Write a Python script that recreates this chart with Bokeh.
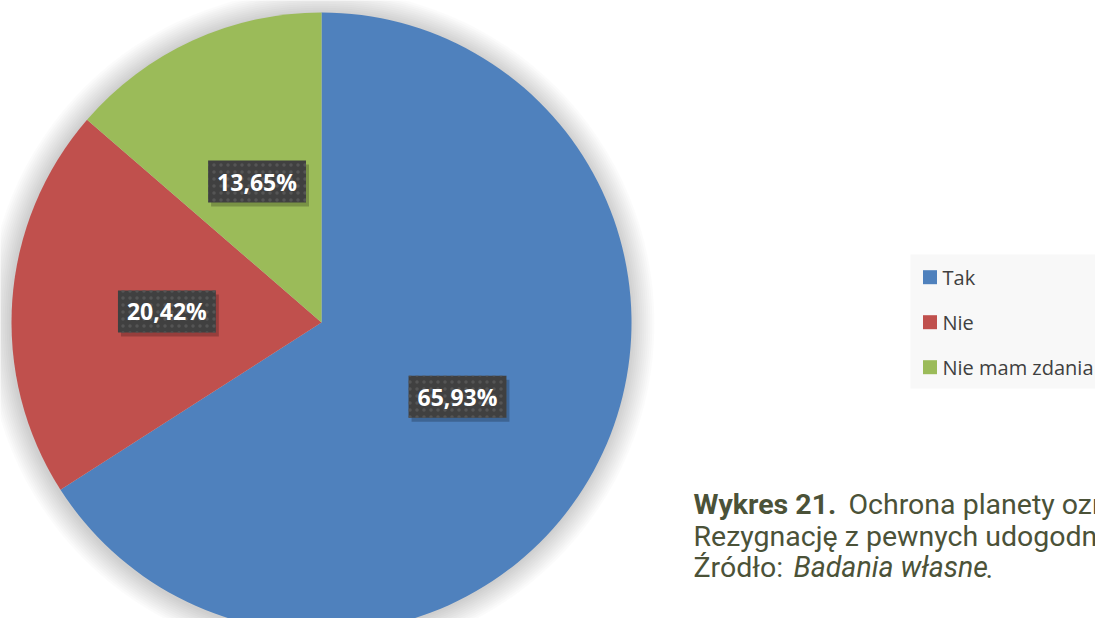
import math
from bokeh.plotting import figure
from bokeh.models import Range1d, ColumnDataSource
from bokeh.embed import file_html
from bokeh.resources import INLINE
from bokeh.core.properties import value

# ---- data ----
categories = ["Tak", "Nie", "Nie mam zdania"]
percent = [65.93, 20.42, 13.65]
labels = ["65,93%", "20,42%", "13,65%"]
colors = ["#4f81bd", "#c0504d", "#9bbb59"]

# ---- layout ----
W, H = 1095, 618


def sy(y):
    return H - y


p = figure(width=W, height=H, x_range=Range1d(0, W), y_range=Range1d(0, H),
           output_backend="svg", toolbar_location=None, min_border=0)
p.axis.visible = False
p.grid.visible = False
p.outline_line_color = None
p.background_fill_color = "white"
p.border_fill_color = "white"

CX, CY, R = 321, sy(322), 310

# soft shadow
for k in range(1, 13):
    p.circle(x=CX - 1, y=CY - 1, radius=R + 2 * k, fill_color="black", fill_alpha=0.016, line_color=None)

# wedges
total = sum(percent)
starts, ends, mids = [], [], []
cum = 0.0
for v in percent:
    a0 = math.pi / 2 - 2 * math.pi * (cum + v) / total
    a1 = math.pi / 2 - 2 * math.pi * cum / total
    starts.append(a0)
    ends.append(a1)
    mids.append((a0 + a1) / 2)
    cum += v

src = ColumnDataSource(dict(start=starts, end=ends, color=colors, cat=categories))
p.wedge(x=CX, y=CY, radius=R, start_angle="start", end_angle="end",
        fill_color="color", line_color=None, source=src)

lx = [CX + 0.5 * R * math.cos(m) for m in mids]
ly = [CY + 0.5 * R * math.sin(m) for m in mids]

lab_src = ColumnDataSource(dict(x=lx, y=ly, text=labels))
pad = dict(left=9, right=9, top=5, bottom=5)
lab_font = value("Open Sans")
lab_size = "23px"
# label shadow
p.text(x="x", y="y", text="text", source=lab_src, x_offset=3, y_offset=4,
       text_align="center", text_baseline="middle", text_color=None,
       text_font=lab_font, text_font_style="bold", text_font_size=lab_size,
       background_fill_color="black", background_fill_alpha=0.22, padding=pad)
p.text(x="x", y="y", text="text", source=lab_src,
       text_align="center", text_baseline="middle", text_color="white",
       text_font=lab_font, text_font_style="bold", text_font_size=lab_size,
       background_fill_color="#404040", padding=pad,
       background_hatch_pattern="dot", background_hatch_color="#555555",
       background_hatch_scale=7, background_hatch_weight=1)

# legend
p.quad(left=910, right=W, bottom=sy(388), top=sy(254), fill_color="#f8f8f8", line_color=None)
leg_y = [sy(276.7 + 45 * i) for i in range(len(categories))]
p.scatter(x=[929.5] * len(categories), y=leg_y, marker="square", size=14,
          fill_color=colors, line_color=None)
p.text(x=[942] * len(categories), y=leg_y, text=categories, text_baseline="middle",
       text_align="left", text_color="#404040", text_font=value("Open Sans"),
       text_font_size="20px")

# caption
cap_color = "#4b5238"
cap_font = value("Roboto")
cap_size = "28.5px"
p.text(x=[693], y=[sy(504)], text=["Wykres 21."], text_baseline="alphabetic",
       text_color=cap_color, text_font=cap_font, text_font_style="bold", text_font_size=cap_size)
p.text(x=[848], y=[sy(504)], text=["Ochrona planety ozn"], text_baseline="alphabetic",
       text_color=cap_color, text_font=cap_font, text_font_size=cap_size)
p.text(x=[693], y=[sy(536)], text=["Rezygnację z pewnych udogodn"], text_baseline="alphabetic",
       text_color=cap_color, text_font=cap_font, text_font_size=cap_size)
p.text(x=[693], y=[sy(567)], text=["Źródło:"], text_baseline="alphabetic",
       text_color=cap_color, text_font=cap_font, text_font_size=cap_size)
p.text(x=[793], y=[sy(567)], text=["Badania własne"], text_baseline="alphabetic",
       text_color=cap_color, text_font=cap_font, text_font_style="italic", text_font_size=cap_size)
p.text(x=[985], y=[sy(567)], text=["."], text_baseline="alphabetic",
       text_color=cap_color, text_font=cap_font, text_font_size=cap_size)

open("out.html", "w").write(file_html(p, INLINE))
